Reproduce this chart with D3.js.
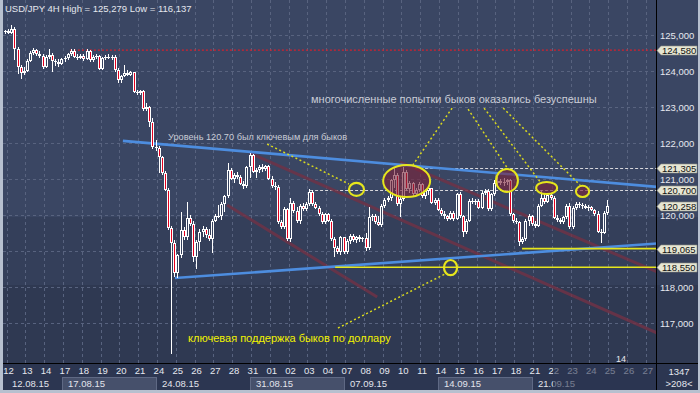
<!DOCTYPE html>
<html><head><meta charset="utf-8">
<script src="https://cdn.jsdelivr.net/npm/d3@7"></script>
<style>html,body{margin:0;padding:0;background:#3a4663;overflow:hidden}svg{display:block}</style>
</head><body><svg id="c" width="700" height="393"></svg>
<script>
// ---------- data ----------
const titleText = "USD/JPY 4H  High = 125,279 Low = 116,137";
const dayLabels = ["12","13","14","17","18","19","20","21","24","25","26","27","28","31","01","02","03","04","07","08","09","10","11","14","15","16","17","18","21","22","23","24","25","26","27"];
const weekLabels = ["12.08.15","17.08.15","24.08.15","31.08.15","07.09.15","14.09.15","21.09.15"];
const weekStartDay = [0,3,8,13,18,23,28];
const gridPrices = [117,118,119,120,121,122,123,124,125];
const priceLabels = [117,118,120,121,122,123,124,125]; // 119,000 is hidden behind a marker
const markerLevels = [124.580,121.305,120.700,120.258,119.065,118.550];

// candles: [open, high, low, close]
const week1 = [[125.08,125.14,125.03,125.10],[125.10,125.16,125.02,125.06],[125.06,125.28,125.04,125.18],[125.18,125.22,124.30,124.62],[124.62,124.66,123.92,124.10],[124.10,124.18,123.78,123.95],[123.95,124.10,123.88,124.00],[124.00,124.32,123.96,124.28],[124.28,124.55,124.25,124.50],[124.50,124.65,124.45,124.58],[124.58,124.62,124.42,124.46],[124.46,124.55,124.36,124.42],[124.42,124.48,124.05,124.12],[124.12,124.45,124.08,124.38],[124.38,124.62,124.32,124.44],[124.44,124.50,123.98,124.28],[124.28,124.34,124.15,124.24],[124.24,124.32,124.12,124.20],[124.20,124.36,124.18,124.32]];
const week2 = [[124.32,124.42,124.25,124.36],[124.36,124.50,124.30,124.46],[124.46,124.62,124.42,124.56],[124.56,124.60,124.36,124.40],[124.40,124.46,124.30,124.36],[124.36,124.48,124.32,124.42],[124.42,124.46,124.28,124.34],[124.34,124.62,124.30,124.56],[124.56,124.58,124.24,124.30],[124.30,124.44,124.26,124.38],[124.38,124.46,124.32,124.42],[124.42,124.44,124.02,124.06],[124.06,124.40,124.04,124.36],[124.36,124.44,124.30,124.40],[124.40,124.46,124.32,124.36],[124.36,124.44,124.30,124.40],[124.40,124.44,123.98,124.04],[124.04,124.08,123.68,123.76],[123.76,123.90,123.68,123.86],[123.86,124.16,123.82,123.95],[123.95,124.02,123.86,123.90],[123.90,124.00,123.86,123.96],[123.96,123.98,123.38,123.42],[123.42,123.48,123.34,123.38],[123.38,123.48,123.32,123.44],[123.44,123.46,122.90,122.94],[122.94,123.12,122.88,123.00],[123.00,123.04,122.45,122.58],[122.58,122.69,121.84,121.90],[121.90,122.08,121.78,121.86]];
const week3 = [[121.86,121.92,121.17,121.60],[121.60,121.64,121.12,121.18],[121.18,121.22,120.66,120.70],[120.70,120.76,119.58,119.64],[119.64,119.70,116.137,119.22],[119.22,119.30,118.28,118.38],[118.38,118.92,118.25,118.88],[118.88,120.08,118.80,119.58],[119.58,119.66,119.30,119.38],[119.38,120.36,119.30,119.92],[119.92,120.00,119.70,119.76],[119.76,119.84,118.70,118.84],[118.84,119.30,118.50,119.24],[119.24,119.60,119.00,119.52],[119.52,119.70,119.40,119.62],[119.62,119.68,119.36,119.44],[119.44,119.60,119.28,119.34],[119.34,119.90,118.94,119.84],[119.84,120.02,119.80,119.98],[119.98,120.28,119.92,119.96],[119.96,120.36,119.86,120.30],[120.30,120.56,120.08,120.52],[120.52,121.44,120.48,121.24],[121.24,121.30,120.96,121.00],[121.00,121.16,120.90,121.12],[121.12,121.20,121.00,121.06],[121.06,121.10,120.82,120.86],[120.86,120.94,120.72,120.80],[120.80,121.36,120.76,121.32],[121.32,121.72,121.04,121.66]];
const week4 = [[121.66,121.70,121.16,121.20],[121.20,121.30,121.04,121.26],[121.26,121.40,121.18,121.34],[121.34,121.42,121.20,121.28],[121.28,121.40,121.22,121.36],[121.36,121.40,120.96,121.00],[121.00,121.08,120.76,120.80],[120.80,120.92,120.70,120.78],[120.78,120.84,119.74,119.80],[119.80,119.86,119.60,119.66],[119.66,120.22,119.60,120.18],[120.18,120.20,119.28,119.32],[119.32,120.48,119.26,120.34],[120.34,120.40,120.06,120.10],[120.10,120.22,119.78,119.82],[119.82,120.30,119.76,120.24],[120.24,120.32,120.10,120.16],[120.16,120.36,120.12,120.30],[120.30,120.72,120.26,120.64],[120.64,120.70,120.26,120.30],[120.30,120.36,120.16,120.20],[120.20,120.24,119.98,120.02],[120.02,120.08,119.76,119.80],[119.80,120.06,119.74,120.02],[120.02,120.06,119.80,119.84],[119.84,119.88,119.28,119.32],[119.32,119.38,118.83,119.08],[119.08,119.14,118.92,118.98],[118.98,119.42,118.90,119.38],[119.38,119.40,118.92,118.96]];
const week5 = [[118.96,119.34,118.92,119.28],[119.28,119.46,119.20,119.42],[119.42,119.46,119.24,119.30],[119.30,119.42,119.22,119.38],[119.38,119.44,119.26,119.32],[119.32,119.40,119.24,119.36],[119.36,119.50,119.00,119.08],[119.08,120.22,119.02,119.94],[119.94,120.02,119.84,119.98],[119.98,120.02,119.76,119.80],[119.80,119.98,119.70,119.72],[119.72,120.30,119.66,120.26],[120.26,120.46,120.20,120.42],[120.42,120.52,120.36,120.46],[120.46,121.00,120.40,120.96],[120.96,121.31,120.74,121.10],[121.10,121.18,120.26,120.30],[120.30,120.50,119.94,120.44],[120.44,121.33,120.40,121.20],[121.20,121.24,120.68,120.72],[120.72,120.94,120.60,120.88],[120.88,120.92,120.54,120.58],[120.58,120.74,120.52,120.70],[120.70,120.92,120.64,120.86],[120.86,120.90,120.48,120.54],[120.54,120.72,120.44,120.66],[120.66,120.80,120.56,120.74],[120.74,120.76,120.30,120.34]];
const week6 = [[120.34,120.46,120.28,120.42],[120.42,120.46,120.10,120.14],[120.14,120.20,119.96,120.04],[120.04,120.10,119.90,119.96],[119.96,120.00,119.84,119.90],[119.90,120.10,119.86,120.06],[120.06,120.10,119.82,119.90],[119.90,120.62,119.86,120.58],[120.58,120.64,119.92,119.96],[119.96,120.00,119.39,119.52],[119.52,119.88,119.46,119.84],[119.84,120.44,119.80,120.40],[120.40,120.48,120.30,120.36],[120.36,120.44,120.28,120.40],[120.40,120.44,120.16,120.20],[120.20,120.66,120.16,120.62],[120.62,120.72,120.56,120.68],[120.68,120.72,120.12,120.16],[120.16,120.62,120.12,120.58],[120.58,120.96,120.52,120.90],[120.90,121.06,120.82,120.94],[120.94,121.00,120.84,120.88],[120.88,121.04,120.80,120.92],[120.92,121.00,120.82,120.96],[120.96,121.00,119.98,120.02],[120.02,120.06,119.78,119.84],[119.84,119.92,119.74,119.80],[119.80,119.84,119.14,119.26],[119.26,119.40,119.20,119.34],[119.34,119.88,119.28,119.84],[119.84,120.02,119.70,119.98],[119.98,120.00,119.70,119.76],[119.76,119.82,119.64,119.70]];
const week7 = [[119.70,120.30,119.66,120.26],[120.26,120.70,120.22,120.46],[120.46,120.58,120.30,120.36],[120.36,120.62,120.32,120.56],[120.56,120.60,120.42,120.48],[120.48,120.52,119.88,119.92],[119.92,120.00,119.80,119.86],[119.86,119.92,119.74,119.80],[119.80,119.98,119.74,119.94],[119.94,120.30,119.88,120.26],[120.26,120.32,119.62,119.66],[119.66,120.24,119.62,120.20],[120.20,120.36,120.14,120.30],[120.30,120.36,120.20,120.28],[120.28,120.34,120.18,120.24],[120.24,120.30,120.16,120.20],[120.20,120.28,120.12,120.22],[120.22,120.26,120.10,120.14],[120.14,120.18,119.98,120.04],[120.04,120.10,119.50,119.54],[119.54,119.62,119.22,119.50],[119.50,120.12,119.46,120.06],[120.06,120.42,120.00,120.26]];

// annotations in data units: [candle index, price]
const blueLines = [[[37.6,122.06],[208,120.78]],[[54.2,118.25],[208,119.21]]];
const channelLines = [[[78.1,121.72],[208,116.72]],[[70.8,120.28],[118.7,117.72]],[[126.0,121.47],[208,118.42]]];
const yellowLevels = [[105.3,118.55],[164.9,119.065]];
const whiteLevels = [[130.8,121.305],[97.3,120.70]];
const redLevel = [20.7,124.58];
// ellipses: [idxLeft, idxRight, priceTop, priceBottom]
const filledEllipses = [[120.6,135.6,121.39,120.50],[156.6,163.6,121.28,120.64],[169.4,176.1,120.92,120.58],[182.1,186.3,120.81,120.50]];
const openCircles = [[109.7,114.5,120.89,120.53],[140.0,144.2,118.75,118.33]];
const pointerLines = [[[83.6,121.97],[109.7,120.86]],[[142.6,122.97],[130.1,121.39]],[[147.7,122.94],[160.4,121.28]],[[152.8,122.97],[170.7,120.92]],[[158.9,122.97],[183.4,120.83]],[[106.2,116.86],[141.0,118.39]]];
const notes = [
  {t:"Уровень 120.70 был ключевым для быков", i:52.0, p:122.07, size:9.2, color:"#c9ccd6"},
  {t:"многочисленные попытки быков оказались безуспешны", i:97.6, p:123.11, size:11, color:"#c9ccd6"},
  {t:"ключевая поддержка быков по доллару", i:58.4, p:116.47, size:11, color:"#f2f200"}
];

// ---------- drawing ----------
const candles = [].concat(week1,week2,week3,week4,week5,week6,week7);
const svg = d3.select('#c');
const FONT = "'Liberation Sans', Arial, sans-serif";
const plotR = 657, plotB = 363;

const x = d3.scaleLinear().domain([0, candles.length-1]).range([5, 607]);
const y = d3.scaleLinear().domain([125, 117]).range([35, 323]);
const dayX = d3.scaleLinear().domain([0, 34]).range([6.5, 645.7]);

const defs = svg.append('defs');
defs.append('clipPath').attr('id','clip').append('rect').attr('x',3).attr('y',0).attr('width',plotR-3).attr('height',plotB);

// background bands
[[0,217,'#3a4663'],[217,285,'#343f5a'],[285,363,'#2f3952']].forEach(b=>{
  svg.append('rect').attr('x',0).attr('y',b[0]).attr('width',700).attr('height',b[1]-b[0]).attr('fill',b[2]);
});

const plot = svg.append('g').attr('clip-path','url(#clip)');

// grid
plot.append('g').selectAll('line').data(gridPrices).join('line')
  .attr('x1',3).attr('x2',plotR).attr('y1',d=>Math.round(y(d))+0.5).attr('y2',d=>Math.round(y(d))+0.5)
  .attr('stroke','#58637f').attr('stroke-dasharray','3,3');
plot.append('g').selectAll('line').data(d3.range(dayLabels.length)).join('line')
  .attr('x1',d=>Math.round(dayX(d))+0.5).attr('x2',d=>Math.round(dayX(d))+0.5).attr('y1',0).attr('y2',plotB)
  .attr('stroke','#58637f').attr('stroke-dasharray','3,3');

// red dotted level
plot.append('line').attr('x1',x(redLevel[0])).attr('x2',plotR).attr('y1',y(redLevel[1])).attr('y2',y(redLevel[1]))
  .attr('stroke','#d3202e').attr('stroke-width',1.3).attr('stroke-dasharray','2,2');
// white dashed levels
plot.selectAll('.wl').data(whiteLevels).join('line')
  .attr('x1',d=>x(d[0])).attr('x2',plotR).attr('y1',d=>Math.round(y(d[1]))+0.5).attr('y2',d=>Math.round(y(d[1]))+0.5)
  .attr('stroke','#d8d8dc').attr('stroke-dasharray','3,2');
// channel lines
plot.selectAll('.cl').data(channelLines).join('line')
  .attr('x1',d=>x(d[0][0])).attr('y1',d=>y(d[0][1])).attr('x2',d=>x(d[1][0])).attr('y2',d=>y(d[1][1]))
  .attr('stroke','#6e3347').attr('stroke-opacity',0.85).attr('stroke-width',3);
// blue trend lines
plot.selectAll('.bl').data(blueLines).join('line')
  .attr('x1',d=>x(d[0][0])).attr('y1',d=>y(d[0][1])).attr('x2',d=>x(d[1][0])).attr('y2',d=>y(d[1][1]))
  .attr('stroke','#4d8ddf').attr('stroke-width',2.6);
// yellow levels
plot.selectAll('.yl').data(yellowLevels).join('line')
  .attr('x1',d=>x(d[0])).attr('x2',plotR).attr('y1',d=>y(d[1])).attr('y2',d=>y(d[1]))
  .attr('stroke','#e6e61c').attr('stroke-width',1.6);

// candles
const cg = plot.append('g').attr('shape-rendering','crispEdges');
const cx = i => Math.round(x(i));
cg.selectAll('.wick').data(candles).join('rect')
  .attr('x',(d,i)=>cx(i)).attr('y',d=>Math.round(y(d[1])))
  .attr('width',1).attr('height',d=>Math.max(1,Math.round(y(d[2]))-Math.round(y(d[1]))))
  .attr('fill','#ffffff');
const bodyTop = d => Math.round(y(Math.max(d[0],d[3])));
const bodyH = d => Math.max(1, Math.round(y(Math.min(d[0],d[3]))) - bodyTop(d));
cg.selectAll('.body').data(candles).join('rect')
  .attr('x',(d,i)=>cx(i)-1).attr('y',bodyTop).attr('width',3).attr('height',bodyH).attr('fill','#ffffff');
cg.selectAll('.inner').data(candles.map((d,i)=>[d,i]).filter(e=>bodyH(e[0])>2)).join('rect')
  .attr('x',e=>cx(e[1])).attr('y',e=>bodyTop(e[0])+1).attr('width',1).attr('height',e=>bodyH(e[0])-2)
  .attr('fill',e=>e[0][3]<e[0][0] ? '#e4001e' : '#35415e');

// ellipses
const ell = (sel, data) => sel.selectAll('ellipse').data(data).join('ellipse')
  .attr('cx',d=>(x(d[0])+x(d[1]))/2).attr('cy',d=>(y(d[2])+y(d[3]))/2)
  .attr('rx',d=>(x(d[1])-x(d[0]))/2).attr('ry',d=>(y(d[3])-y(d[2]))/2);
ell(plot.append('g'), filledEllipses).attr('fill','rgba(122,36,58,0.62)').attr('stroke','#e6e61c').attr('stroke-width',2);
ell(plot.append('g'), openCircles).attr('fill','none').attr('stroke','#e6e61c').attr('stroke-width',2.2);

// pointer lines
plot.selectAll('.pl').data(pointerLines).join('line')
  .attr('x1',d=>x(d[0][0])).attr('y1',d=>y(d[0][1])).attr('x2',d=>x(d[1][0])).attr('y2',d=>y(d[1][1]))
  .attr('stroke','#d9d91e').attr('stroke-width',1.5).attr('stroke-dasharray','2,2.5');

// notes
plot.selectAll('.note').data(notes).join('text')
  .attr('x',d=>x(d.i)).attr('y',d=>y(d.p)).attr('font-size',d=>d.size).attr('fill',d=>d.color)
  .attr('font-family',FONT).text(d=>d.t);

// title
svg.append('text').attr('x',5).attr('y',12).attr('font-size',9.5).attr('font-family',FONT)
  .attr('fill','#e4e6ee').text(titleText);
svg.append('text').attr('x',616).attr('y',362).attr('font-size',9).attr('font-family',FONT)
  .attr('fill','#e8e8ee').text('14');

// bottom axis area
svg.append('rect').attr('x',0).attr('y',363).attr('width',700).attr('height',30).attr('fill','#2c3651');
const wk = svg.append('g').attr('shape-rendering','crispEdges');
weekLabels.forEach((lab,w)=>{
  const x0 = Math.round(dayX(weekStartDay[w]))-1;
  const x1 = w<weekLabels.length-1 ? Math.round(dayX(weekStartDay[w+1]))-1 : plotR;
  if (w%2===1) {
    wk.append('rect').attr('x',x0+0.5).attr('y',377.5).attr('width',x1-x0).attr('height',14)
      .attr('fill','#46506b').attr('stroke','#5f6984');
  }
  wk.append('text').attr('x',x0+6).attr('y',387).attr('font-size',9.5).attr('font-family',FONT)
    .attr('fill','#e2e4ec').text(lab);
});
const dayAxis = d3.axisBottom(dayX).tickValues(d3.range(dayLabels.length))
  .tickFormat(i=>dayLabels[i]).tickSize(0).tickPadding(4);
const dg = svg.append('g').attr('transform','translate(1.5,363)').call(dayAxis);
dg.select('.domain').remove();
dg.selectAll('text').attr('font-size',9.5).attr('font-family',FONT).attr('fill','#e6e8ef');
// dim future area of the time axis
svg.append('rect').attr('x',553).attr('y',364).attr('width',plotR-553).attr('height',27).attr('fill','#2c3651').attr('opacity',0.6);

// axis separator lines
svg.append('line').attr('x1',0).attr('x2',700).attr('y1',363.5).attr('y2',363.5).attr('stroke','#000');
svg.append('line').attr('x1',656.5).attr('x2',656.5).attr('y1',0).attr('y2',393).attr('stroke','#000');

// price axis
const pa = d3.axisRight(y).tickValues(priceLabels).tickFormat(p=>p.toFixed(3).replace('.',',')).tickSize(0).tickPadding(3);
const pg = svg.append('g').attr('transform','translate(657,0)').call(pa);
pg.select('.domain').remove();
pg.selectAll('text').attr('font-size',9.5).attr('font-family',FONT).attr('fill','#e6e8ef');

// level markers
const mk = svg.append('g').selectAll('g').data(markerLevels).join('g')
  .attr('transform',d=>`translate(0,${Math.round(y(d))+0.5})`);
mk.append('path').attr('d','M657,0 L661,-4.5 L697,-4.5 L697,4.5 L661,4.5 Z').attr('fill','#e6e6d3').attr('stroke','#8e8e84').attr('stroke-width',0.6);
mk.append('text').attr('x',662).attr('y',3.4).attr('font-size',9.5).attr('font-family',FONT).attr('fill','#111').text(d=>d.toFixed(3).replace('.',','));

// bottom-right box texts
svg.append('text').attr('x',679).attr('y',375).attr('text-anchor','middle').attr('font-size',9.5).attr('font-family',FONT).attr('fill','#e6e8ef').text('1347');
svg.append('text').attr('x',679).attr('y',387).attr('text-anchor','middle').attr('font-size',9.5).attr('font-family',FONT).attr('fill','#e6e8ef').text('>208<');

// window frame
svg.append('rect').attr('x',0).attr('y',0).attr('width',3).attr('height',393).attr('fill','#b7c0cf');
svg.append('rect').attr('x',0).attr('y',390).attr('width',700).attr('height',3).attr('fill','#b7c0cf');
svg.append('rect').attr('x',698).attr('y',0).attr('width',2).attr('height',393).attr('fill','#b7c0cf');
</script></body></html>
